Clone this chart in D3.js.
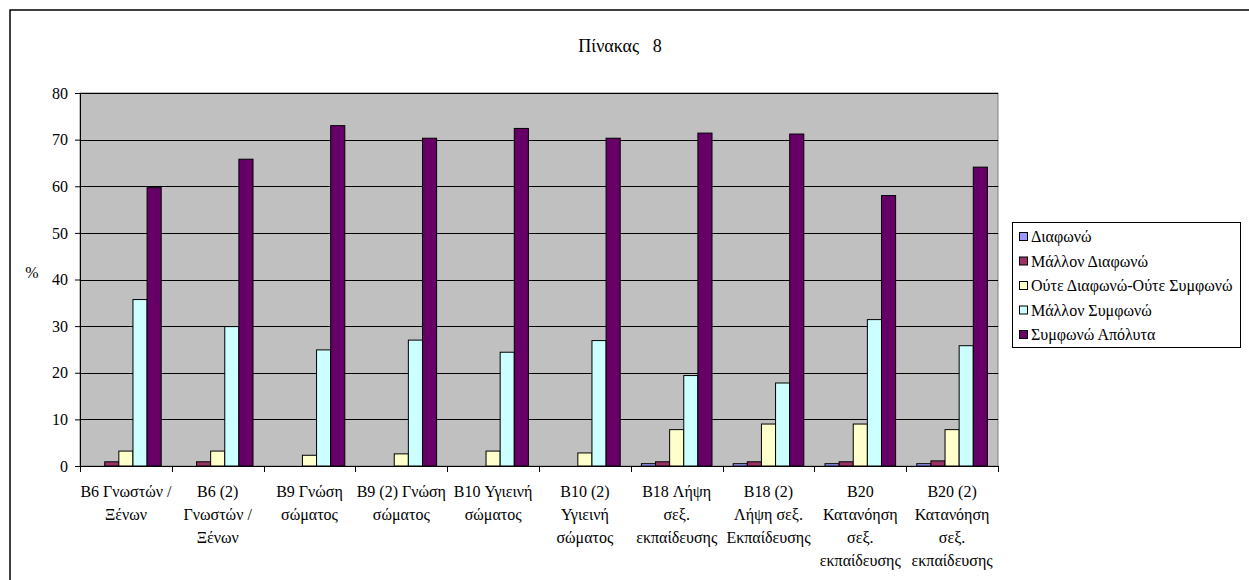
<!DOCTYPE html>
<html>
<head>
<meta charset="utf-8">
<script src="https://cdn.jsdelivr.net/npm/d3@7"></script>
<style>
  html, body { margin: 0; padding: 0; background: #fff; }
  svg { display: block; }
  svg text { font-family: "Liberation Serif", "Times New Roman", serif; }
</style>
</head>
<body>
<svg id="chart" width="1249" height="580"></svg>
<script>
const title = "Πίνακας   8";
const yLabel = "%";
const categories = [
  "B6 Γνωστών /\nΞένων",
  "B6 (2)\nΓνωστών /\nΞένων",
  "B9 Γνώση\nσώματος",
  "B9 (2) Γνώση\nσώματος",
  "B10 Υγιεινή\nσώματος",
  "B10 (2)\nΥγιεινή\nσώματος",
  "B18 Λήψη\nσεξ.\nεκπαίδευσης",
  "B18 (2)\nΛήψη σεξ.\nΕκπαίδευσης",
  "B20\nΚατανόηση\nσεξ.\nεκπαίδευσης",
  "B20 (2)\nΚατανόηση\nσεξ.\nεκπαίδευσης"
];
const seriesNames = ["Διαφωνώ", "Μάλλον Διαφωνώ", "Ούτε Διαφωνώ-Ούτε Συμφωνώ", "Μάλλον Συμφωνώ", "Συμφωνώ Απόλυτα"];
const diafono        = [0, 0, 0, 0, 0, 0, 0.5, 0.5, 0.5, 0.5];
const mallonDiafono  = [0.9, 0.9, 0, 0, 0, 0, 0.9, 0.9, 0.9, 1.1];
const oute           = [3.2, 3.2, 2.3, 2.6, 3.2, 2.8, 7.8, 9.0, 9.0, 7.8];
const mallonSymfono  = [35.7, 29.9, 24.9, 27.0, 24.4, 26.9, 19.4, 17.8, 31.4, 25.8];
const apolyta        = [59.7, 65.8, 73.0, 70.3, 72.4, 70.3, 71.4, 71.2, 58.0, 64.1];
const seriesValues = [diafono, mallonDiafono, oute, mallonSymfono, apolyta];
const colors = ["#9999FF", "#993366", "#FFFFCC", "#CCFFFF", "#660066"];
const yTicks = [0, 10, 20, 30, 40, 50, 60, 70, 80];

const FONT = '"Liberation Serif", "Times New Roman", serif';
const FS = 16;
const svg = d3.select("#chart");
const plot = { left: 80, right: 998, top: 93, bottom: 466 };

// outer chart border
svg.append("rect").attr("x", 10).attr("y", 10).attr("width", 1300).attr("height", 700)
  .attr("fill", "#fff").attr("stroke", "#000").attr("stroke-width", 1.5);

const x = d3.scaleBand().domain(categories).range([plot.left, plot.right]).paddingInner(0).paddingOuter(0);
const bw = x.bandwidth() / 6.5;
const xs = d3.scaleBand().domain(seriesNames).range([0.75 * bw, x.bandwidth() - 0.75 * bw]).padding(0);
const y = d3.scaleLinear().domain([0, 80]).range([plot.bottom, plot.top]);

// plot background
svg.append("rect").attr("x", plot.left).attr("y", plot.top)
  .attr("width", plot.right - plot.left).attr("height", plot.bottom - plot.top)
  .attr("fill", "#C0C0C0").attr("stroke", "#808080").attr("stroke-width", 1);

// gridlines
svg.append("g").selectAll("line").data(yTicks.filter(t => t > 0)).join("line")
  .attr("x1", plot.left).attr("x2", plot.right)
  .attr("y1", d => Math.round(y(d)) + 0.5).attr("y2", d => Math.round(y(d)) + 0.5)
  .attr("stroke", "#000").attr("stroke-width", 1);

// bars
const barData = [];
categories.forEach((c, ci) => {
  seriesNames.forEach((s, si) => {
    const v = seriesValues[si][ci];
    if (v > 0) barData.push({ c, s, v, si });
  });
});
svg.append("g").selectAll("rect").data(barData).join("rect")
  .attr("x", d => x(d.c) + xs(d.s))
  .attr("y", d => y(d.v))
  .attr("width", xs.bandwidth())
  .attr("height", d => y(0) - y(d.v))
  .attr("fill", d => colors[d.si])
  .attr("stroke", "#000").attr("stroke-width", 1);

// y axis
const yAxis = svg.append("g").attr("transform", `translate(${plot.left},0)`)
  .call(d3.axisLeft(y).tickValues(yTicks).tickSize(5).tickPadding(7).tickFormat(d3.format("d")));
yAxis.attr("font-family", FONT);
yAxis.select(".domain").attr("stroke", "#000");
yAxis.selectAll(".tick line").attr("stroke", "#000");
yAxis.selectAll("text").attr("font-size", FS).attr("font-family", FONT).attr("fill", "#000");

// x axis (ticks at category boundaries)
const xAxisG = svg.append("g");
xAxisG.append("line").attr("x1", plot.left).attr("x2", plot.right)
  .attr("y1", plot.bottom + 0.5).attr("y2", plot.bottom + 0.5).attr("stroke", "#000");
const boundaries = categories.map(c => x(c)).concat([plot.right]);
xAxisG.selectAll("line.tk").data(boundaries).join("line").attr("class", "tk")
  .attr("x1", d => Math.round(d) + 0.5).attr("x2", d => Math.round(d) + 0.5)
  .attr("y1", plot.bottom).attr("y2", plot.bottom + 6).attr("stroke", "#000");

const labels = svg.append("g").selectAll("text").data(categories).join("text")
  .attr("x", d => x(d) + x.bandwidth() / 2)
  .attr("y", plot.bottom + 31)
  .attr("text-anchor", "middle")
  .attr("font-family", FONT)
  .attr("font-size", FS).attr("fill", "#000");
labels.each(function(d) {
  const t = d3.select(this);
  d.split("\n").forEach((line, i) => {
    t.append("tspan").attr("x", x(d) + x.bandwidth() / 2).attr("dy", i === 0 ? 0 : 23).text(line);
  });
});

// y label
svg.append("text").attr("x", 32).attr("y", 278).attr("text-anchor", "middle")
  .attr("font-family", FONT).attr("font-size", FS).text(yLabel);

// title
svg.append("text").attr("x", 620).attr("y", 52).attr("text-anchor", "middle")
  .attr("font-family", FONT).attr("font-size", 18)
  .attr("xml:space", "preserve").style("white-space", "pre").text(title);

// legend
const lg = svg.append("g");
lg.append("rect").attr("x", 1012.5).attr("y", 222.5).attr("width", 228).attr("height", 125)
  .attr("fill", "#fff").attr("stroke", "#000").attr("stroke-width", 1);
const ly = d3.scalePoint().domain(seriesNames).range([237, 335]);
const items = lg.selectAll("g.item").data(seriesNames).join("g").attr("class", "item");
items.append("rect").attr("x", 1019.5).attr("y", d => ly(d) - 4.5).attr("width", 8).attr("height", 8)
  .attr("fill", (d, i) => colors[i]).attr("stroke", "#000").attr("stroke-width", 1);
items.append("text").attr("x", 1031).attr("y", d => ly(d) + 5)
  .attr("font-family", FONT).attr("font-size", FS).text(d => d);
</script>
</body>
</html>
